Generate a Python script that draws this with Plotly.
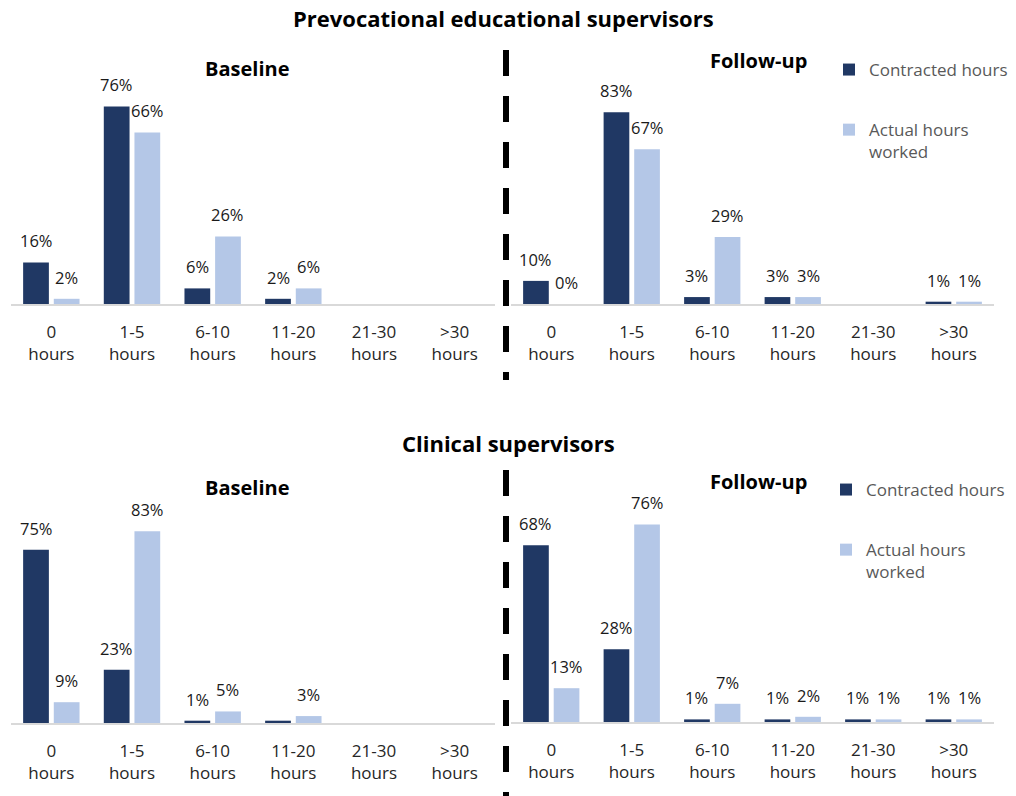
import plotly.graph_objects as go

# ---- data -------------------------------------------------------------
hour_bands = ["0<br>hours", "1-5<br>hours", "6-10<br>hours",
              "11-20<br>hours", "21-30<br>hours", ">30<br>hours"]

# Prevocational educational supervisors (% of respondents)
prevoc_baseline_contracted = [16, 76, 6, 2, None, None]
prevoc_baseline_actual = [2, 66, 26, 6, None, None]
prevoc_followup_contracted = [10, 83, 3, 3, None, 1]
prevoc_followup_actual = [0, 67, 29, 3, None, 1]

# Clinical supervisors (% of respondents)
clinical_baseline_contracted = [75, 23, 1, 1, None, None]
clinical_baseline_actual = [9, 83, 5, 3, None, None]
clinical_followup_contracted = [68, 28, 1, 1, 1, 1]
clinical_followup_actual = [13, 76, 7, 2, 1, 1]

# bars whose value label is not printed (x axis, series, index)
unlabelled = {("x3", "contracted", 3)}

series_names = {"contracted": "Contracted hours",
                "actual": "Actual hours<br>worked"}
panel_titles = ["Baseline", "Follow-up", "Baseline", "Follow-up"]
section_titles = ["Prevocational educational supervisors", "Clinical supervisors"]

# ---- style ------------------------------------------------------------
DARK = "#203864"
LIGHT = "#B4C7E7"
FONT = "'Open Sans', Lato, sans-serif"
W, H = 1016, 796


def px_x(p):
    return p / W


def px_y(p):
    return 1 - p / H


panels = [
    # axis suffix, contracted, actual, x-domain px, y-domain px, y max, legend
    ("", prevoc_baseline_contracted, prevoc_baseline_actual, (11, 495), (96, 304), 80, None),
    ("2", prevoc_followup_contracted, prevoc_followup_actual, (511, 994), (96, 304), 90, "legend"),
    ("3", clinical_baseline_contracted, clinical_baseline_actual, (11, 495), (515, 723), 90, None),
    ("4", clinical_followup_contracted, clinical_followup_actual, (511, 994), (514, 722), 80, "legend2"),
]

fig = go.Figure()
annotations = []
layout_axes = {}
BAR_OFFSET = 15.3  # half the per-series slot width, px

for suffix, contracted, actual, xd, yd, ymax, legend_name in panels:
    xref = "x" + suffix
    yref = "y" + suffix
    for key, vals, color, shift in (("contracted", contracted, DARK, -BAR_OFFSET),
                                    ("actual", actual, LIGHT, BAR_OFFSET)):
        fig.add_trace(go.Bar(
            x=hour_bands, y=vals, name=series_names[key],
            marker=dict(color=color, line=dict(width=0)),
            xaxis=xref, yaxis=yref,
            showlegend=legend_name is not None,
            legend=legend_name if legend_name else "legend",
            legendgroup=key + suffix,
            hoverinfo="skip",
        ))
        for i, v in enumerate(vals):
            if v is None or (xref, key, i) in unlabelled:
                continue
            annotations.append(dict(
                x=hour_bands[i], y=v, xref=xref, yref=yref,
                text=f"{v:.0f}%", showarrow=False,
                xanchor="center", yanchor="bottom",
                xshift=shift, yshift=8,
                font=dict(family=FONT, size=16.5, color="#1a1a1a"),
            ))
    layout_axes["xaxis" + suffix] = dict(
        domain=[px_x(xd[0]), px_x(xd[1])], anchor=yref,
        type="category", categoryorder="array", categoryarray=hour_bands,
        showline=True, linecolor="#D9D9D9", linewidth=1.5,
        showgrid=False, zeroline=False, ticks="",
        ticklabelstandoff=12,
        tickfont=dict(family=FONT, size=17, color="#262626"),
        fixedrange=True,
    )
    layout_axes["yaxis" + suffix] = dict(
        domain=[px_y(yd[1]), px_y(yd[0])], anchor=xref,
        range=[0, ymax], visible=False, fixedrange=True,
    )

# section and panel titles
for text, (x, y) in zip(section_titles, ((503, 18), (508, 443))):
    annotations.append(dict(
        x=px_x(x), y=px_y(y), xref="paper", yref="paper", text=f"<b>{text}</b>",
        showarrow=False, xanchor="center", yanchor="middle",
        font=dict(family=FONT, size=22, color="#000000"),
    ))
for text, (x, y) in zip(panel_titles, ((247, 68), (758, 61), (247, 487), (758, 481))):
    annotations.append(dict(
        x=px_x(x), y=px_y(y), xref="paper", yref="paper", text=f"<b>{text}</b>",
        showarrow=False, xanchor="center", yanchor="middle",
        font=dict(family=FONT, size=20, color="#000000"),
    ))

legend_style = dict(
    xanchor="left", yanchor="top", bgcolor="rgba(0,0,0,0)",
    font=dict(family=FONT, size=17, color="#595959"),
    traceorder="grouped", tracegroupgap=35, valign="top",
    itemclick=False, itemdoubleclick=False,
)

# vertical divider between baseline and follow-up panels, broken around the
# "Clinical supervisors" heading
divider = dict(color="black", width=6, dash="26px,20px")
shapes = [
    dict(type="line", xref="paper", yref="paper",
         x0=px_x(506), x1=px_x(506), y0=px_y(50), y1=px_y(380), line=divider),
    dict(type="line", xref="paper", yref="paper",
         x0=px_x(506), x1=px_x(506), y0=px_y(470), y1=px_y(800), line=divider),
]

fig.update_layout(
    width=W, height=H,
    margin=dict(l=0, r=0, t=0, b=0),
    paper_bgcolor="white", plot_bgcolor="white",
    barmode="group", bargap=0.24, bargroupgap=0.16,
    font=dict(family=FONT),
    annotations=annotations,
    legend=dict(x=px_x(829), y=px_y(52), **legend_style),
    legend2=dict(x=px_x(826), y=px_y(472), **legend_style),
    shapes=shapes,
    **layout_axes,
)

fig.write_html("out.html", config={"displayModeBar": False})
